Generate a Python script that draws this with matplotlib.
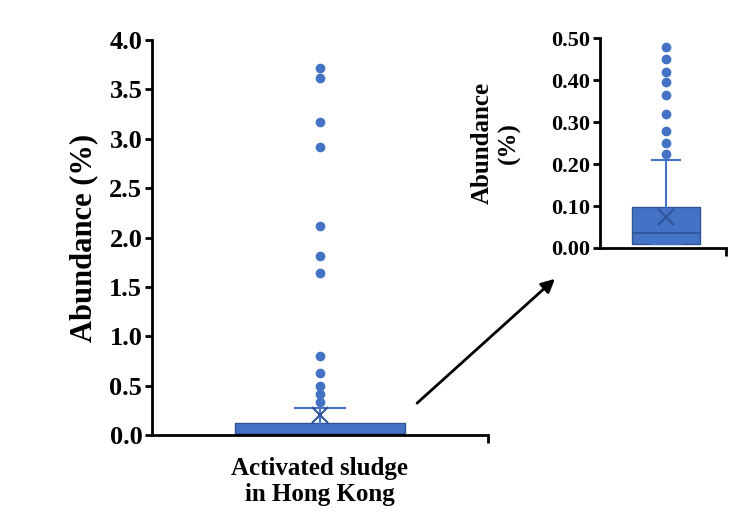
import matplotlib.pyplot as plt
from matplotlib.ticker import FormatStrFormatter

plt.rcParams['font.family'] = 'Liberation Serif'
plt.rcParams['font.weight'] = 'bold'

# main box summary
main_stats = dict(q1=0.0, med=0.01, q3=0.12, whislo=0.0, whishi=0.27, mean=0.2,
                  fliers=[3.72, 3.62, 3.17, 2.92, 2.12, 1.81, 1.64, 0.80, 0.63, 0.50, 0.42, 0.33])
# zoomed inset summary
inset_stats = dict(q1=0.01, med=0.035, q3=0.097, whislo=0.01, whishi=0.21, mean=0.075,
                   fliers=[0.48, 0.45, 0.42, 0.395, 0.365, 0.32, 0.278, 0.25, 0.225])
main_ticks = [0, 0.5, 1.0, 1.5, 2.0, 2.5, 3.0, 3.5, 4.0]
inset_ticks = [0, 0.1, 0.2, 0.3, 0.4, 0.5]

blue = '#4472C4'
box_kw = dict(patch_artist=True, showmeans=True,
              boxprops=dict(facecolor=blue, edgecolor='#2F5597', linewidth=1),
              medianprops=dict(color='#2F5597', linewidth=1.2),
              whiskerprops=dict(color=blue, linewidth=1.5),
              capprops=dict(color=blue, linewidth=1.5),
              flierprops=dict(marker='o', markerfacecolor=blue, markeredgecolor=blue, markersize=6),
              meanprops=dict(marker='x', markeredgecolor='#2F5597', markersize=11, markeredgewidth=1.5))

fig = plt.figure(figsize=(7.36, 5.13), dpi=100)


def style(ax, ticks, fmt, size):
    for s in ['top', 'right']:
        ax.spines[s].set_visible(False)
    for s in ['left', 'bottom']:
        ax.spines[s].set_linewidth(2)
    ax.set_ylim(0, ticks[-1])
    ax.set_yticks(ticks)
    ax.yaxis.set_major_formatter(FormatStrFormatter(fmt))
    ax.tick_params(axis='y', labelsize=size, width=2, length=5, pad=2)
    ax.set_xlim(0, 1)
    ax.set_xticks([0.5, 1])
    ax.set_xticklabels(['', ''])
    ax.tick_params(axis='x', width=2, length=6)
    ax.xaxis.get_major_ticks()[0].tick1line.set_visible(False)


ax = fig.add_axes([0.2065, 0.152, 0.4565, 0.77])
ax.bxp([main_stats], positions=[0.5], widths=0.506, capwidths=0.15, **box_kw)
style(ax, main_ticks, '%.1f', 19)
ax.set_ylabel('Abundance (%)', fontsize=22, fontweight='bold', labelpad=8)
ax.set_xlabel('Activated sludge\nin Hong Kong', fontsize=18, fontweight='bold', labelpad=6)

ins = fig.add_axes([0.815, 0.5166, 0.171, 0.409])
ins.bxp([inset_stats], positions=[0.524], widths=0.54, capwidths=0.22, **box_kw)
style(ins, inset_ticks, '%.2f', 16)
ins.set_ylabel('Abundance\n(%)', fontsize=18, fontweight='bold', labelpad=22)

ax.annotate('', xy=(557, 236), xycoords='figure pixels', xytext=(415, 108),
            textcoords='figure pixels',
            arrowprops=dict(arrowstyle='-|>', color='black', lw=2, mutation_scale=20))

fig.savefig('out.png', dpi=100)
